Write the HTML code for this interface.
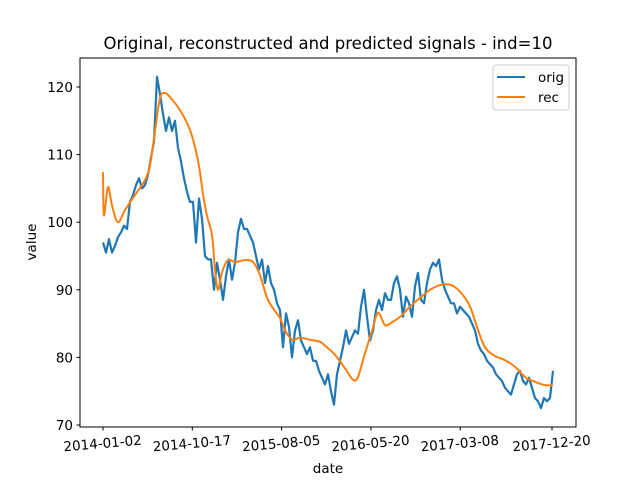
<!DOCTYPE html>
<html><head><meta charset="utf-8"><style>
body{margin:0;background:#fff}
svg text{font-family:"DejaVu Sans","Liberation Sans",sans-serif;fill:#000}
</style></head><body>
<svg id="chart" width="640" height="480" xmlns="http://www.w3.org/2000/svg">
<rect width="640" height="480" fill="#fff"/>
<text x="328" y="49" font-size="16.5" text-anchor="middle">Original, reconstructed and predicted signals - ind=10</text>
<g id="plot"></g>
<rect x="80" y="58" width="496" height="369" fill="none" stroke="#000" stroke-width="1"/>
<g id="yaxis"></g><g id="xaxis"></g>
<text x="328" y="473" font-size="13.5" text-anchor="middle">date</text>
<text transform="translate(36,242) rotate(-90)" font-size="13.5" text-anchor="middle">value</text>
<g>
<rect x="493" y="65" width="76" height="45" rx="3" fill="#fff" stroke="#ccc" stroke-width="1"/>
<g><line x1="497" y1="77" x2="525" y2="77" stroke="#1f77b4" stroke-width="2"/><text x="538" y="82" font-size="13.5">orig</text></g>
<g><line x1="497" y1="97" x2="525" y2="97" stroke="#ff7f0e" stroke-width="2"/><text x="538" y="102" font-size="13.5">rec</text></g>
</g>
</svg>
<script>
const origStepDays = 9.675;
const origValues = [97.0,95.5,97.5,95.5,96.5,97.8,98.5,99.5,99.0,103.0,104.0,105.5,106.5,105.0,105.5,107.0,109.5,112.0,121.5,119.0,116.0,113.5,115.5,113.5,115.0,111.0,109.0,106.5,104.5,103.0,103.0,97.0,103.5,100.5,95.0,94.5,94.5,90.0,94.0,91.5,88.5,92.0,94.5,91.5,94.0,98.5,100.5,99.0,99.0,98.0,97.0,95.0,93.0,94.5,91.0,93.5,91.0,90.0,88.0,87.0,81.5,86.5,84.5,80.0,84.0,85.5,82.5,81.5,80.5,81.5,79.5,79.5,78.0,77.0,76.0,77.5,75.0,73.0,77.5,79.5,81.5,84.0,82.0,83.0,84.0,83.5,87.5,90.0,86.0,82.5,84.0,87.0,88.5,87.0,89.5,88.5,88.5,91.0,92.0,90.0,86.0,89.0,88.0,86.0,90.5,92.5,88.5,88.0,91.0,93.0,94.0,93.5,94.5,91.5,90.0,89.0,88.0,88.0,86.5,87.5,87.0,86.5,86.0,85.0,84.0,82.0,81.0,80.5,79.5,79.0,78.5,77.5,77.0,76.5,75.5,75.0,74.5,76.0,77.5,78.0,76.5,76.0,77.0,75.5,74.0,73.5,72.5,74.0,73.5,74.0,78.0];
const recDays = [0,3,16,29,48,71,103,135,152,168,184,200,216,248,281,306,323,335,352,361,371,384,403,426,458,484,506,532,571,587,610,635,668,700,722,748,780,806,822,845,868,887,909,932,958,990,1022,1055,1087,1113,1135,1161,1184,1206,1232,1264,1296,1329,1361,1393,1425,1451];
const recValues = [107.4,101,105.2,102.5,100,101.8,104,106.2,108.5,113.6,118.4,119.1,118.5,116.6,113.6,109.2,104,101,98,93,90,92.6,94.4,94.1,94.4,94.1,92.2,88.5,85.8,84,82.6,82.9,82.6,82.3,81.5,80.4,78.4,76.7,77.1,80.6,84,86.6,84.8,85.2,86,87.5,88.8,90,90.7,90.8,90.4,89.2,87.5,84.5,81.5,80.2,79.6,78.6,77.1,76.4,75.9,75.9];
const xTickDays = [0,288,576,864,1152,1448];
const xTickLabels = ["2014-01-02","2014-10-17","2015-08-05","2016-05-20","2017-03-08","2017-12-20"];
const yTicks = [70,80,90,100,110,120];

const NS="http://www.w3.org/2000/svg";
function xs(d){return 103 + d*449/1448;}
function ys(v){return 87 + (120-v)*6.76;}
function mk(tag,attrs,parent){const e=document.createElementNS(NS,tag);for(const k in attrs)e.setAttribute(k,attrs[k]);parent.appendChild(e);return e;}
function smoothPath(pts){
  let d='M'+pts[0][0].toFixed(1)+','+pts[0][1].toFixed(1);
  for(let i=0;i<pts.length-1;i++){
    const p0=pts[Math.max(0,i-1)],p1=pts[i],p2=pts[i+1],p3=pts[Math.min(pts.length-1,i+2)];
    const c1=[p1[0]+(p2[0]-p0[0])/6,p1[1]+(p2[1]-p0[1])/6];
    const c2=[p2[0]-(p3[0]-p1[0])/6,p2[1]-(p3[1]-p1[1])/6];
    d+=' C'+c1.map(n=>n.toFixed(1))+' '+c2.map(n=>n.toFixed(1))+' '+p2.map(n=>n.toFixed(1));
  }
  return d;
}
const plot=document.getElementById('plot');
let p1=origValues.map((v,i)=>xs(i*origStepDays).toFixed(1)+','+ys(v).toFixed(1)).join(' ');
const l1=mk('polyline',{points:p1,fill:'none',stroke:'#1f77b4','stroke-width':2.2,'stroke-linejoin':'round'},plot);


const recPts=recDays.map((d,i)=>[xs(d),ys(recValues[i])]);
const l2=mk('path',{d:smoothPath(recPts),fill:'none',stroke:'#ff7f0e','stroke-width':2,'stroke-linejoin':'round'},plot);


const ya=document.getElementById('yaxis');
yTicks.forEach(t=>{
  const g=mk('g',{},ya);
  
  
  mk('line',{x1:76.5,x2:80,y1:ys(t),y2:ys(t),stroke:'#000'},g);
  const tx=mk('text',{x:73,y:ys(t)+5,'font-size':13.5,'text-anchor':'end'},g);tx.textContent=t;
});
const xa=document.getElementById('xaxis');
xTickDays.forEach((d,i)=>{
  const g=mk('g',{},xa);
  
  
  const x=xs(d);
  mk('line',{x1:x,x2:x,y1:427,y2:430.5,stroke:'#000'},g);
  const tx=mk('text',{transform:`translate(${x},448) rotate(-5)`,'font-size':13.5,'text-anchor':'middle'},g);tx.textContent=xTickLabels[i];
});
</script>
</body></html>
